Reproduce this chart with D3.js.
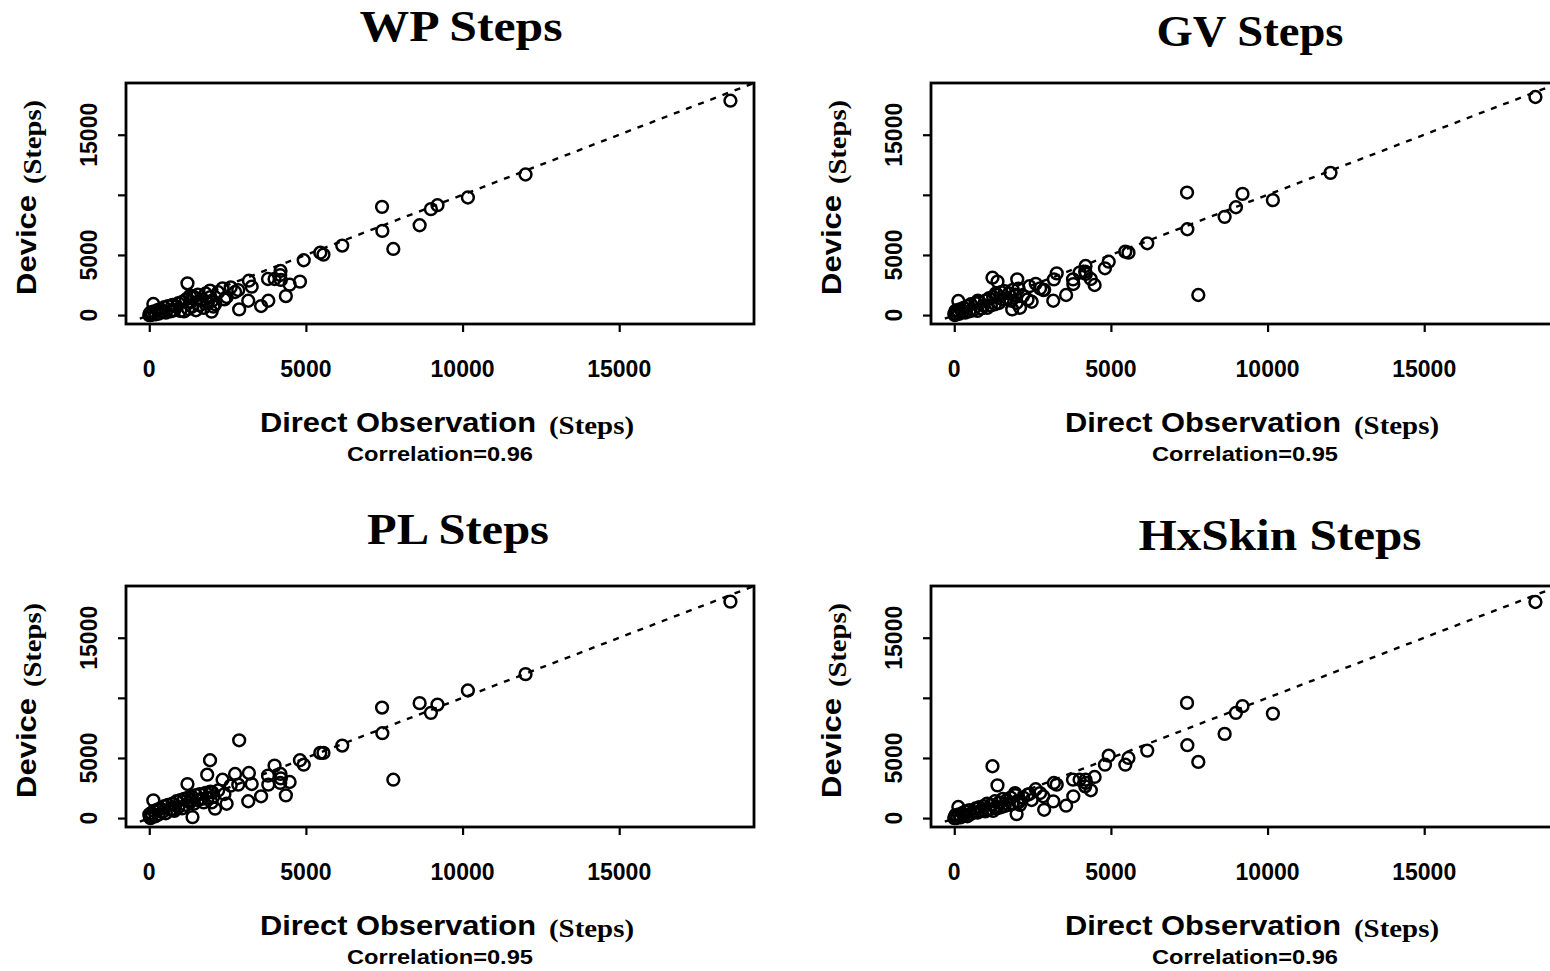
<!DOCTYPE html>
<html>
<meta charset="utf-8">
<style>
  body { margin: 0; background: #fff; }
  .sans { font-family: "Liberation Sans", Arial, sans-serif; font-weight: bold; }
  .serif { font-family: "Liberation Serif", "DejaVu Serif", serif; font-weight: bold; }
</style>
<body>
<svg width="1550" height="971"></svg>
<script src="https://d3js.org/d3.v7.min.js"></script>
<script>
// panel titles and correlations (WP, GV, PL, HxSkin)
const panelTitles = ["WP Steps", "GV Steps", "PL Steps", "HxSkin Steps"];
const correlations = ["0.96", "0.95", "0.95", "0.96"];

// direct observation steps (shared by all devices)
const directObs = [
  18550, 12010, 10170, 9200, 8990, 8630, 7430, 7440, 7790, 6160,
  5460, 5560, 4930, 4810, 4480, 4360, 4190, 4180, 4200, 4000,
  3790, 3800, 3570, 3270, 3180, 3160, 2840, 2740, 2870, 2470,
  2340, 2100, 1940, 1990, 2010, 1850, 1220, 1380, 1330, 130, 750,
  0, 20, 40, 60, 90, 150, 200, 260, 300, 350, 420, 480, 530, 600, 680, 740, 800, 870, 930, 990,
  1050, 1110, 1170, 1240, 1300, 1360, 1430, 1490, 1550, 1610, 1680, 1740, 1800, 1870, 1950, 2050, 2200, 2400, 2600
];

// device steps, same order as directObs (null = no reading)
const wpDevice = [
  17830, 11690, 9780, 9140, 8810, 7470, 9000, 7000, 5500, 5780,
  5190, 5030, 4560, 2780, 2530, 1580, 3670, 3330, 2920, 3000,
  3000, 1190, 750, 2360, 2860, 1190, 2080, 1920, 470, 1500,
  2220, 900, 2030, 280, 1200, 1100, 2640, 1580, 1100, 920, 400,
  0, 150, 0, 250, 50, 300, 60, 400, 120, 500, 250, 650, 200, 750, 300, 850, 400, 700, 1000, 350,
  1100, 300, 1300, 500, 1600, 700, 1500, 400, 1700, 800, 1300, 600, 1800, 1000, 1500, 700, 1900, 1300, 2300
];
const gvDevice = [
  18140, 11830, 9560, 10080, 8970, 8170, 10190, 7140, 1670, 5970,
  5280, 5190, 4440, 3890, 2500, 3000, 4080, 3610, 3420, 3530,
  2970, 2580, 1670, 3470, 2970, 1190, 2080, 2220, 2100, 1110,
  1300, 610, 1600, 1000, 2970, 470, 3110, 2780, 1810, 1170, 1190,
  100, 0, 350, 80, 400, 100, 500, 250, 600, 200, 750, 300, 900, 400, 1000, 350, 1100, 550, 800, 1200,
  600, 1400, 800, 1500, 900, 1700, 1000, 1900, 1300, 2000, 1400, 1800, 1200, 2100, 1700, 2200, 1600, 2400, 2600
];
const plDevice = [
  18000, 11970, 10610, 9440, 8750, 9560, 9190, 7060, 3190, 6030,
  5420, 5420, 4440, 4810, 3000, 1890, 3670, 2920, 3300, 4360,
  3530, 2780, 1810, 2830, 3750, 1400, 2780, 3670, 6470, 1190,
  3190, 780, 4810, 1300, 2140, 3610, 2830, 80, 1500, 1470, 700,
  300, 100, 0, 400, 200, 600, 150, 700, 300, 800, 500, 1000, 400, 1100, 700, 1200, 600, 1400, 900, 1500,
  800, 1600, 1100, 1700, 1300, 1800, 1200, 1900, 1500, 2000, 1600, 1300, 2100, 1700, 2200, 1800, 2300, 2000, 2700
];
const hxDevice = [
  17970, null, 8690, 9310, 8750, 7000, 9580, 6060, 4670, 5610,
  4440, 5000, 5190, 4440, 3420, 2310, 3190, 2640, 2920, 3190,
  3190, 1810, 1030, 2780, 2920, 1390, 1810, 2080, 690, 1500,
  1940, 1100, 2080, 330, 1400, 1200, 4310, 2720, 900, 920, 500,
  0, 100, 250, 0, 150, 300, 50, 400, 200, 550, 150, 650, 350, 500, 800, 450, 900, 600, 1000, 550,
  1200, 700, 1100, 600, 1400, 800, 1300, 900, 1600, 1000, 1500, 1100, 1700, 1200, 1900, 1300, 1700, 2000, 2400
];

const xTicks = [0, 5000, 10000, 15000];
const yTicks = [0, 5000, 10000, 15000];
const yTickLabels = ["0", "5000", "", "15000"];

const deviceSeries = [wpDevice, gvDevice, plDevice, hxDevice];

// R style range: data range padded 4% on each side, same for both axes
const dataMax = 18560;
const pad = dataMax * 0.04;
const domain = [-pad, dataMax + pad];

const svg = d3.select("svg");
const colLeft = [126, 931], rowTop = [83, 586];
const plotW = 628, plotH = 241;
const titleWidths = [203, 187, 182, 283];
const titleBase = [41, 46, 544, 550];
const titleCenter = [461, 1250, 458, 1280];

panelTitles.forEach((title, i) => {
  const col = i % 2, row = Math.floor(i / 2);
  const left = colLeft[col], top = rowTop[row];
  const dx = col * 805, dy = row * 503;

  const x = d3.scaleLinear().domain(domain).range([left, left + plotW]);
  const y = d3.scaleLinear().domain(domain).range([top + plotH, top]);

  const g = svg.append("g");

  g.append("clipPath").attr("id", "clip" + i)
    .append("rect").attr("x", left).attr("y", top).attr("width", plotW).attr("height", plotH);

  // identity line
  g.append("line")
    .attr("clip-path", `url(#clip${i})`)
    .attr("x1", x(-300)).attr("y1", y(-300))
    .attr("x2", x(19400)).attr("y2", y(19400))
    .attr("stroke", "#000").attr("stroke-width", 2.4)
    .attr("stroke-dasharray", "6,7");

  // points
  const pts = directObs.map((v, k) => ({obs: v, dev: deviceSeries[i][k]}))
    .filter(d => d.dev !== null);
  g.selectAll("circle").data(pts).enter().append("circle")
    .attr("cx", d => x(d.obs))
    .attr("cy", d => y(d.dev))
    .attr("r", 5.9)
    .attr("fill", "none")
    .attr("stroke", "#000")
    .attr("stroke-width", 2.5);

  // box
  g.append("rect")
    .attr("x", left).attr("y", top).attr("width", plotW).attr("height", plotH)
    .attr("fill", "none").attr("stroke", "#000").attr("stroke-width", 2.8);

  // x axis
  const xAxis = g.append("g")
    .attr("transform", `translate(0,${top + plotH})`)
    .call(d3.axisBottom(x).tickValues(xTicks).tickSize(8).tickFormat(""));
  xAxis.select(".domain").remove();
  xAxis.selectAll("line").attr("stroke-width", 2.2);
  g.selectAll(".xlab").data(xTicks).enter().append("text")
    .attr("class", "sans")
    .attr("x", d => x(d)).attr("y", 377 + dy)
    .attr("text-anchor", "middle")
    .attr("font-size", 23)
    .text(d => d);

  // y axis
  const yAxis = g.append("g")
    .attr("transform", `translate(${left},0)`)
    .call(d3.axisLeft(y).tickValues(yTicks).tickSize(8).tickFormat(""));
  yAxis.select(".domain").remove();
  yAxis.selectAll("line").attr("stroke-width", 2.2);
  g.selectAll(".ylab").data(yTicks).enter().append("text")
    .attr("class", "sans")
    .attr("transform", d => `translate(${97 + dx},${y(d)}) rotate(-90)`)
    .attr("text-anchor", "middle")
    .attr("font-size", 23)
    .text((d, k) => yTickLabels[k]);

  // title
  svg.append("text")
    .attr("class", "serif")
    .attr("x", titleCenter[i] - titleWidths[i] / 2)
    .attr("y", titleBase[i])
    .attr("font-size", 44)
    .attr("textLength", titleWidths[i])
    .attr("lengthAdjust", "spacingAndGlyphs")
    .text(title);

  // x label
  svg.append("text").attr("class", "sans")
    .attr("x", 260 + dx).attr("y", 432 + dy)
    .attr("font-size", 27)
    .attr("textLength", 276).attr("lengthAdjust", "spacingAndGlyphs")
    .text("Direct Observation");
  svg.append("text").attr("class", "serif")
    .attr("x", 549 + dx).attr("y", 434 + dy)
    .attr("font-size", 25)
    .attr("textLength", 85).attr("lengthAdjust", "spacingAndGlyphs")
    .text("(Steps)");
  svg.append("text").attr("class", "sans")
    .attr("x", 347 + dx).attr("y", 461 + dy)
    .attr("font-size", 21)
    .attr("textLength", 186).attr("lengthAdjust", "spacingAndGlyphs")
    .text("Correlation=" + correlations[i]);

  // y label
  svg.append("text").attr("class", "sans")
    .attr("transform", `translate(${36 + dx},${295 + dy}) rotate(-90)`)
    .attr("font-size", 28)
    .attr("textLength", 100).attr("lengthAdjust", "spacingAndGlyphs")
    .text("Device");
  svg.append("text").attr("class", "serif")
    .attr("transform", `translate(${41 + dx},${184 + dy}) rotate(-90)`)
    .attr("font-size", 26)
    .attr("textLength", 84).attr("lengthAdjust", "spacingAndGlyphs")
    .text("(Steps)");
});
</script>
</body>
</html>
